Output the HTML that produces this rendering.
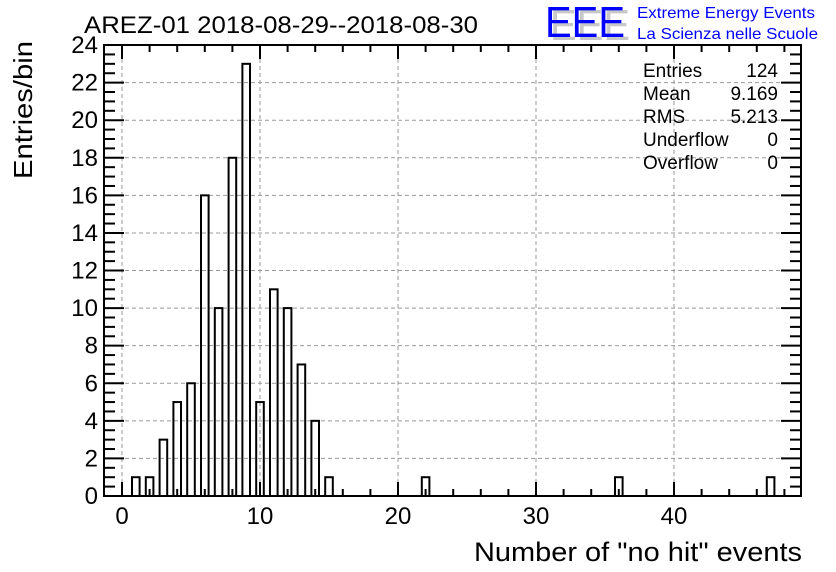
<!DOCTYPE html>
<html><head><meta charset="utf-8"><style>html,body{margin:0;padding:0;background:#fff}svg{display:block}</style></head>
<body>
<svg width="836" height="572" viewBox="0 0 836 572" xmlns="http://www.w3.org/2000/svg" font-family="Liberation Sans, sans-serif">
<rect width="836" height="572" fill="#fff"/>
<g id="grid" stroke="#999" stroke-width="1" stroke-dasharray="4,3"></g>
<g id="bars" fill="none" stroke="#000" stroke-width="2"></g>
<rect x="104" y="45" width="697" height="451" fill="none" stroke="#000" stroke-width="2"/>
<g id="ticks" stroke="#000" stroke-width="2"></g>
<g id="labels" font-size="24" fill="#000"></g>
<text x="84" y="33" font-size="24" textLength="394" lengthAdjust="spacingAndGlyphs">AREZ-01 2018-08-29--2018-08-30</text>
<text x="545" y="37" font-size="44" fill="#c8c8c8" textLength="80" lengthAdjust="spacingAndGlyphs" transform="translate(5,3)">EEE</text>
<text x="545" y="37" font-size="44" fill="#0000ff" textLength="80" lengthAdjust="spacingAndGlyphs">EEE</text>
<text x="637" y="18" font-size="16" fill="#0000ff" textLength="178" lengthAdjust="spacingAndGlyphs">Extreme Energy Events</text>
<text x="637" y="39" font-size="16" fill="#0000ff" textLength="181" lengthAdjust="spacingAndGlyphs">La Scienza nelle Scuole</text>
<g font-size="19" fill="#000">
<text x="643" y="77">Entries</text><text x="778" y="77" text-anchor="end">124</text>
<text x="643" y="100">Mean</text><text x="778" y="100" text-anchor="end">9.169</text>
<text x="643" y="123">RMS</text><text x="778" y="123" text-anchor="end">5.213</text>
<text x="643" y="146">Underflow</text><text x="778" y="146" text-anchor="end">0</text>
<text x="643" y="169">Overflow</text><text x="778" y="169" text-anchor="end">0</text>
</g>
<text x="0" y="0" font-size="26" transform="translate(32,110) rotate(-90)" text-anchor="middle" textLength="138" lengthAdjust="spacingAndGlyphs">Entries/bin</text>
<text x="474" y="561" font-size="27" textLength="328" lengthAdjust="spacingAndGlyphs">Number of "no hit" events</text>
<script>
var ns="http://www.w3.org/2000/svg";
function el(p,t,a){var e=document.createElementNS(ns,t);for(var k in a)e.setAttribute(k,a[k]);document.getElementById(p).appendChild(e);return e;}
var X=function(v){return 122+v*13.8;}, Y=function(v){return 496-v*18.79;};
for(var i=2;i<24;i+=2)el("grid","line",{x1:104,x2:801,y1:Y(i),y2:Y(i)});
for(var i=0;i<=40;i+=10)el("grid","line",{x1:X(i),x2:X(i),y1:45,y2:496});
var d={1:1,2:1,3:3,4:5,5:6,6:16,7:10,8:18,9:23,10:5,11:11,12:10,13:7,14:4,15:1,22:1,36:1,47:1};
for(var k in d){var c=X(+k);el("bars","rect",{x:c-3.8,y:Y(d[k]),width:7.6,height:496-Y(d[k])});}
for(var v=0;v<=24;v+=0.5){var y=Y(v),L=(v%2==0)?20:11;
 el("ticks","line",{x1:104,x2:104+L,y1:y,y2:y});el("ticks","line",{x1:801,x2:801-L,y1:y,y2:y});
 if(v%2==0){var t=el("labels","text",{x:98,y:y+8,"text-anchor":"end"});t.textContent=v;}}
for(var v=0;v<=48;v+=2){var x=X(v),L=(v%10==0)?14:7;
 el("ticks","line",{x1:x,x2:x,y1:496,y2:496-L});el("ticks","line",{x1:x,x2:x,y1:45,y2:45+L});
 if(v%10==0){var t=el("labels","text",{x:x,y:524,"text-anchor":"middle"});t.textContent=v;}}
</script>
</svg>
</body></html>
